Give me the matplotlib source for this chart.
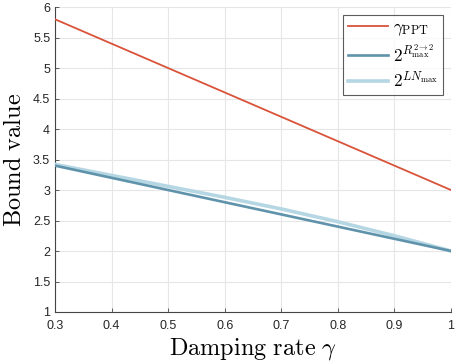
import matplotlib
matplotlib.use("Agg")
import matplotlib.pyplot as plt

gamma = [0.3, 0.4, 0.5, 0.6, 0.7, 0.8, 0.9, 1.0]
gamma_ppt = [5.8, 5.4, 5.0, 4.6, 4.2, 3.8, 3.4, 3.0]
r_max = [3.4, 3.2, 3.0, 2.8, 2.6, 2.4, 2.2, 2.0]
ln_max = [3.42, 3.24, 3.06, 2.88, 2.69, 2.48, 2.25, 2.0]

xticks = [0.3, 0.4, 0.5, 0.6, 0.7, 0.8, 0.9, 1.0]
xticklabels = ["0.3", "0.4", "0.5", "0.6", "0.7", "0.8", "0.9", "1"]
yticks = [1, 1.5, 2, 2.5, 3, 3.5, 4, 4.5, 5, 5.5, 6]
yticklabels = ["1", "1.5", "2", "2.5", "3", "3.5", "4", "4.5", "5", "5.5", "6"]

plt.rcParams['mathtext.fontset'] = 'cm'
plt.rcParams['font.family'] = ['Liberation Sans', 'DejaVu Sans']

fig = plt.figure(figsize=(4.57, 3.63), dpi=100)
ax = fig.add_axes([0.1204, 0.1405, 0.8665, 0.840])

ax.plot(gamma, ln_max, color='#b5d7e3', lw=2.6, label=r'$2^{LN_{\max}}$', zorder=3)
ax.plot(gamma, r_max, color='#5f93ab', lw=1.9, label=r'$2^{R_{\max}^{2\to2}}$', zorder=4)
ax.plot(gamma, gamma_ppt, color='#d9533a', lw=1.3, label=r'$\gamma_{\rm PPT}$', zorder=5)

ax.set_xlim(0.3, 1.0)
ax.set_ylim(1, 6)
ax.set_xticks(xticks)
ax.set_xticklabels(xticklabels)
ax.set_yticks(yticks)
ax.set_yticklabels(yticklabels)
ax.grid(True, color='#e6e6e6', lw=0.8)
ax.set_axisbelow(True)
for s in ['top', 'right']:
    ax.spines[s].set_visible(False)
for s in ['left', 'bottom']:
    ax.spines[s].set_color('#444444')
    ax.spines[s].set_linewidth(0.8)
ax.tick_params(direction='in', length=3, width=0.6, colors='#444444', labelsize=9, labelcolor='#262626')
ax.tick_params(axis='x', pad=6)

ax.set_xlabel(r'$\mathrm{Damping\ rate}\ \gamma$', fontsize=17.5, labelpad=3)
ax.set_ylabel(r'$\mathrm{Bound\ value}$', fontsize=17.5, labelpad=5)

h, l = ax.get_legend_handles_labels()
order = [2, 1, 0]
leg = ax.legend([h[i] for i in order], [l[i] for i in order], loc='upper right',
                bbox_to_anchor=(0.98, 0.975), fontsize=12.5, frameon=True, fancybox=False,
                edgecolor='#333333', handlelength=2.3, handletextpad=0.25,
                borderpad=0.3, labelspacing=0.3, borderaxespad=0.0)
leg.get_frame().set_linewidth(0.8)

fig.savefig('out.png', dpi=100)
